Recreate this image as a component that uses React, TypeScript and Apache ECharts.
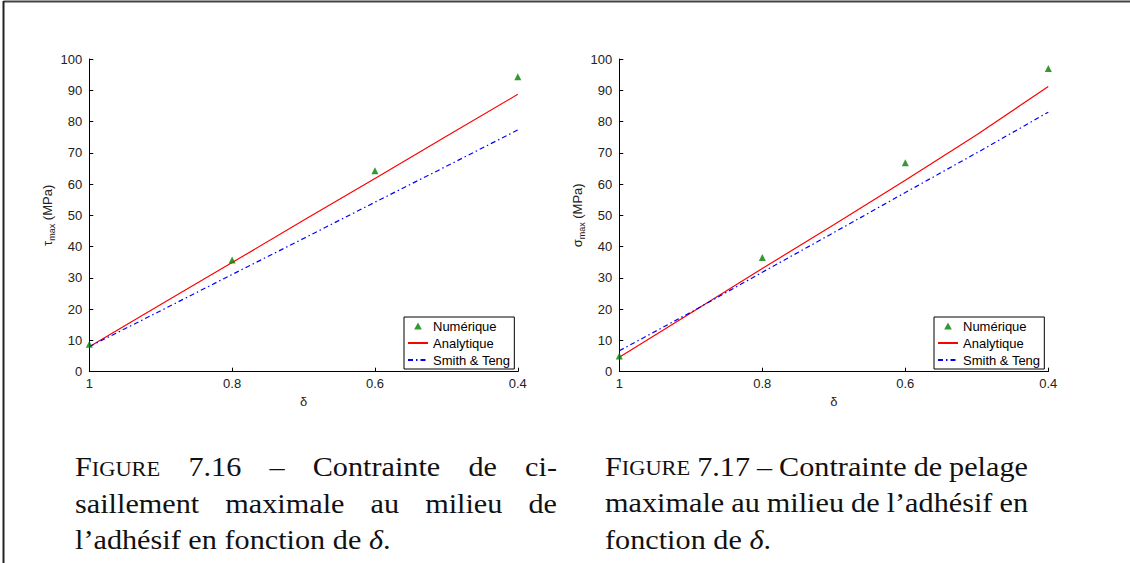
import React, { useEffect, useRef } from "react";
import * as echarts from "echarts";

// ---------- data ----------
const deltaTicks = [1, 0.8, 0.6, 0.4];
const deltaNum = [1, 0.8, 0.6, 0.4];
const deltaCurve = [1, 0.9, 0.8, 0.7, 0.6, 0.5, 0.4];

// Figure 7.16 : tau_max (MPa)
const tauNumerique = [8.8, 35.7, 64.3, 94.3];
const tauAnalytique = [8.0, 21.5, 34.9, 48.4, 61.8, 75.3, 88.7];
const tauSmithTeng = [8.0, 19.5, 31.1, 42.6, 54.2, 65.7, 77.3];

// Figure 7.17 : sigma_max (MPa)
const sigNumerique = [5.0, 36.5, 66.8, 97.0];
const sigAnalytique = [4.6, 18.8, 33.0, 47.0, 61.2, 75.8, 91.2];
const sigSmithTeng = [6.7, 19.0, 31.8, 44.5, 57.3, 70.0, 83.0];

const seriesNames = ["Numérique", "Analytique", "Smith & Teng"];

// captions: lines of words, each word = runs
type Run = { t: string; sc?: boolean; it?: boolean };
const caption716: Run[][][] = [
  [[{ t: "F" }, { t: "IGURE", sc: true }], [{ t: "7.16" }], [{ t: "–" }], [{ t: "Contrainte" }], [{ t: "de" }], [{ t: "ci-" }]],
  [[{ t: "saillement" }], [{ t: "maximale" }], [{ t: "au" }], [{ t: "milieu" }], [{ t: "de" }]],
  [[{ t: "l’adhésif" }], [{ t: "en" }], [{ t: "fonction" }], [{ t: "de" }], [{ t: "δ", it: true }, { t: "." }]],
];
const caption717: Run[][][] = [
  [[{ t: "F" }, { t: "IGURE", sc: true }], [{ t: "7.17" }], [{ t: "–" }], [{ t: "Contrainte" }], [{ t: "de" }], [{ t: "pelage" }]],
  [[{ t: "maximale" }], [{ t: "au" }], [{ t: "milieu" }], [{ t: "de" }], [{ t: "l’adhésif" }], [{ t: "en" }]],
  [[{ t: "fonction" }], [{ t: "de" }], [{ t: "δ", it: true }, { t: "." }]],
];

const SANS = '"Liberation Sans", Arial, Helvetica, sans-serif';
const SERIF = '"Liberation Serif", "Times New Roman", serif';
const CAP_SIZE = 27;
const SC_SIZE = 20;
const STRETCH = 1.12;

function zip(xs: number[], ys: number[]) {
  return xs.map((x, i) => [x, ys[i]]);
}

function buildCaption(lines: Run[][][], x0: number, x1: number, baselines: number[]) {
  const canvas = document.createElement("canvas");
  const ctx = canvas.getContext("2d")!;
  const fontOf = (r: Run) =>
    `${r.it ? "italic " : ""}${r.sc ? SC_SIZE : CAP_SIZE}px ${SERIF}`;
  const measure = (r: Run) => {
    ctx.font = fontOf(r);
    return ctx.measureText(r.t).width * STRETCH;
  };
  ctx.font = `${CAP_SIZE}px ${SERIF}`;
  const spaceW = ctx.measureText(" ").width * STRETCH;
  const els: any[] = [];
  lines.forEach((words, li) => {
    const widths = words.map((w) => w.reduce((s, r) => s + measure(r), 0));
    const total = widths.reduce((a, b) => a + b, 0);
    const last = li === lines.length - 1;
    const gap = last ? spaceW : (x1 - x0 - total) / (words.length - 1);
    let x = x0;
    words.forEach((w, wi) => {
      let rx = x;
      w.forEach((r) => {
        const size = r.sc ? SC_SIZE : CAP_SIZE;
        els.push({
          type: "text",
          x: rx,
          y: baselines[li] - 0.3375 * size,
          scaleX: STRETCH,
          silent: true,
          style: {
            text: r.t,
            x: 0,
            y: 0,
            fill: "#111",
            fontFamily: SERIF,
            fontSize: size,
            fontStyle: r.it ? "italic" : "normal",
            verticalAlign: "middle",
            align: "left",
          },
        });
        rx += measure(r);
      });
      x += widths[wi] + gap;
    });
  });
  return els;
}

function makeAxes(gridIndex: number, yLetter: string) {
  const x = {
    type: "value",
    gridIndex,
    min: 0.4,
    max: 1,
    interval: 0.2,
    inverse: true,
    name: "δ",
    nameLocation: "middle",
    nameGap: 17,
    nameTextStyle: { fontFamily: SANS, fontSize: 13, color: "#222" },
    axisLine: { show: true, onZero: false, lineStyle: { color: "#000", width: 1 } },
    axisTick: { show: true, inside: true, length: 4, lineStyle: { color: "#000" } },
    axisLabel: {
      show: true,
      margin: 5,
      fontFamily: SANS,
      fontSize: 13,
      color: "#222",
      formatter: (v: number) => String(Math.round(v * 10) / 10),
    },
    splitLine: { show: false },
  };
  const y = {
    type: "value",
    gridIndex,
    min: 0,
    max: 100,
    interval: 10,
    name: `{a|${yLetter}}{b|max}{a| (MPa)}`,
    nameLocation: "middle",
    nameGap: 28,
    nameRotate: 90,
    nameTextStyle: {
      fontFamily: SANS,
      fontSize: 13,
      color: "#222",
      rich: {
        a: { fontFamily: SANS, fontSize: 13, color: "#222" },
        b: { fontFamily: SANS, fontSize: 9, color: "#222", padding: [9, 0, 0, 0] },
      },
    },
    axisLine: { show: true, onZero: false, lineStyle: { color: "#000", width: 1 } },
    axisTick: { show: true, inside: true, length: 4, lineStyle: { color: "#000" } },
    axisLabel: { show: true, margin: 7, fontFamily: SANS, fontSize: 13, color: "#222" },
    splitLine: { show: false },
  };
  return { x, y };
}

function makeSeries(idx: number, num: number[], ana: number[], st: number[]) {
  return [
    {
      name: seriesNames[1],
      type: "line",
      xAxisIndex: idx,
      yAxisIndex: idx,
      data: zip(deltaCurve, ana),
      symbol: "none",
      smooth: false,
      color: "#ff0000",
      lineStyle: { color: "#ff0000", width: 1.2 },
      z: 2,
    },
    {
      name: seriesNames[2],
      type: "line",
      xAxisIndex: idx,
      yAxisIndex: idx,
      data: zip(deltaCurve, st),
      symbol: "none",
      color: "#0000ff",
      lineStyle: { color: "#0000ff", width: 1.2, type: [5, 3, 1.5, 3] },
      z: 2,
    },
    {
      name: seriesNames[0],
      type: "scatter",
      xAxisIndex: idx,
      yAxisIndex: idx,
      data: zip(deltaNum, num),
      symbol: "triangle",
      symbolSize: [7, 7],
      color: "#008000",
      itemStyle: { color: "#008000" },
      z: 5,
    },
  ];
}

function makeLegend(left: number) {
  return {
    orient: "vertical",
    left,
    top: 317,
    data: [
      { name: seriesNames[0], icon: "path://M0,10 L5.5,0 L11,10 Z" },
      { name: seriesNames[1], itemStyle: { opacity: 0 } },
      { name: seriesNames[2], itemStyle: { opacity: 0 } },
    ],
    selectedMode: false,
    itemWidth: 20,
    itemHeight: 7,
    itemGap: 3,
    padding: [2, 4, 2, 3],
    borderColor: "#000",
    borderWidth: 1,
    borderRadius: 0,
    backgroundColor: "#fff",
    textStyle: { fontFamily: SANS, fontSize: 13, color: "#000", lineHeight: 14 },
  };
}

export default function App() {
  const ref = useRef<HTMLDivElement>(null);
  useEffect(() => {
    if (!ref.current) return;
    const chart = echarts.init(ref.current, undefined, { renderer: "svg" });
    const a0 = makeAxes(0, "τ");
    const a1 = makeAxes(1, "σ");
    const graphics = [
      {
        type: "line",
        silent: true,
        shape: { x1: 3.5, y1: 1.5, x2: 1130, y2: 1.5 },
        style: { stroke: "#444", lineWidth: 2 },
      },
      {
        type: "line",
        silent: true,
        shape: { x1: 3.5, y1: 1, x2: 3.5, y2: 563 },
        style: { stroke: "#222", lineWidth: 2 },
      },
      ...buildCaption(caption716, 75, 557, [476, 512.5, 548.5]),
      ...buildCaption(caption717, 605, 1028, [475.5, 512, 548.5]),
    ];
    chart.setOption({
      animation: false,
      backgroundColor: "#fff",
      grid: [
        { left: 89.3, top: 59, width: 428.5, height: 312.7, containLabel: false },
        { left: 619.3, top: 59, width: 429, height: 312.7, containLabel: false },
      ],
      xAxis: [a0.x, a1.x],
      yAxis: [a0.y, a1.y],
      legend: [makeLegend(404), makeLegend(934)],
      series: [
        ...makeSeries(0, tauNumerique, tauAnalytique, tauSmithTeng),
        ...makeSeries(1, sigNumerique, sigAnalytique, sigSmithTeng),
      ],
      graphic: graphics,
    });
    return () => chart.dispose();
  }, []);
  return (
    <div
      ref={ref}
      style={{ position: "absolute", left: 0, top: 0, width: 1130, height: 563, background: "#fff" }}
    />
  );
}
